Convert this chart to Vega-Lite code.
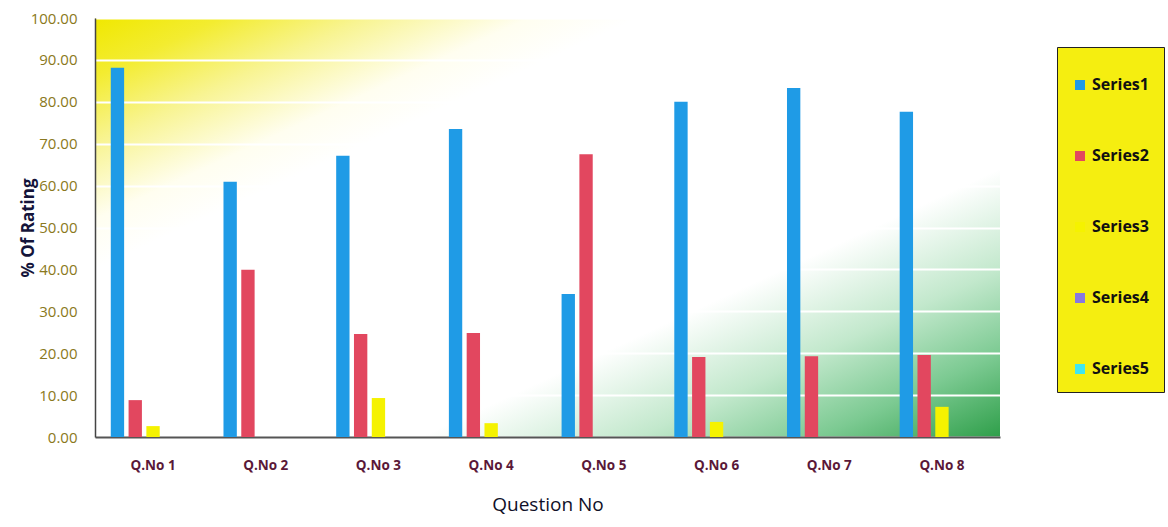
{
  "$schema": "https://vega.github.io/schema/vega-lite/v6.json",
  "autosize": "none",
  "padding": {"left": 95, "top": 18, "right": 168, "bottom": 90},
  "width": 905,
  "height": 419,
  "config": {
    "view": {
      "stroke": null,
      "fill": {
        "gradient": "linear",
        "x1": 0, "y1": 0, "x2": 1, "y2": 1,
        "stops": [
          {"offset": 0, "color": "#f0e800"},
          {"offset": 0.07, "color": "#f3ec30"},
          {"offset": 0.15, "color": "#f8f492"},
          {"offset": 0.24, "color": "#fffef0"},
          {"offset": 0.3, "color": "#ffffff"},
          {"offset": 0.68, "color": "#ffffff"},
          {"offset": 0.8, "color": "#c2e8cc"},
          {"offset": 0.9, "color": "#7cca92"},
          {"offset": 1, "color": "#2f9f4a"}
        ]
      }
    },
    "font": "Open Sans"
  },
  "data": {
    "values": [
      {"q": "Q.No 1", "series": "Series1", "value": 88.1},
      {"q": "Q.No 1", "series": "Series2", "value": 8.8},
      {"q": "Q.No 1", "series": "Series3", "value": 2.6},
      {"q": "Q.No 2", "series": "Series1", "value": 60.9},
      {"q": "Q.No 2", "series": "Series2", "value": 39.9},
      {"q": "Q.No 3", "series": "Series1", "value": 67.1},
      {"q": "Q.No 3", "series": "Series2", "value": 24.6},
      {"q": "Q.No 3", "series": "Series3", "value": 9.3},
      {"q": "Q.No 4", "series": "Series1", "value": 73.5},
      {"q": "Q.No 4", "series": "Series2", "value": 24.8},
      {"q": "Q.No 4", "series": "Series3", "value": 3.3},
      {"q": "Q.No 5", "series": "Series1", "value": 34.1},
      {"q": "Q.No 5", "series": "Series2", "value": 67.5},
      {"q": "Q.No 6", "series": "Series1", "value": 80.0},
      {"q": "Q.No 6", "series": "Series2", "value": 19.1},
      {"q": "Q.No 6", "series": "Series3", "value": 3.6},
      {"q": "Q.No 7", "series": "Series1", "value": 83.3},
      {"q": "Q.No 7", "series": "Series2", "value": 19.3},
      {"q": "Q.No 8", "series": "Series1", "value": 77.6},
      {"q": "Q.No 8", "series": "Series2", "value": 19.6},
      {"q": "Q.No 8", "series": "Series3", "value": 7.2}
    ]
  },
  "mark": {"type": "bar"},
  "encoding": {
    "x": {
      "field": "q",
      "type": "nominal",
      "scale": {"paddingInner": 0.25, "paddingOuter": 0.14},
      "axis": {
        "title": "Question No",
        "labelAngle": 0,
        "labelColor": "#5a1838",
        "labelFontSize": 13.5,
        "labelFontWeight": "bold",
        "labelPadding": 21,
        "ticks": false,
        "domainColor": "#555555",
        "domainWidth": 2,
        "titleFontSize": 19,
        "titleFontWeight": "normal",
        "titleColor": "#101028",
        "titlePadding": 24
      }
    },
    "xOffset": {
      "field": "series",
      "scale": {
        "domain": ["Series1", "Series2", "Series3", "Series4", "Series5"],
        "paddingInner": 0.25
      }
    },
    "y": {
      "field": "value",
      "type": "quantitative",
      "scale": {"domain": [0, 100], "nice": false},
      "axis": {
        "title": "% Of Rating",
        "values": [0, 10, 20, 30, 40, 50, 60, 70, 80, 90, 100],
        "format": ".2f",
        "labelColor": "#8a7820",
        "labelFontSize": 15,
        "labelPadding": 18,
        "ticks": false,
        "domainColor": "#444444",
        "domainWidth": 1.5,
        "gridColor": "#ffffff",
        "gridWidth": 2,
        "titleFontSize": 17,
        "titleFontWeight": "bold",
        "titleColor": "#14143a",
        "titleX": -58
      }
    },
    "color": {
      "field": "series",
      "type": "nominal",
      "scale": {
        "domain": ["Series1", "Series2", "Series3", "Series4", "Series5"],
        "range": ["#1f9be6", "#e2475f", "#f5f200", "#8878e0", "#40e6f0"]
      },
      "legend": {
        "title": " ",
        "titleFontSize": 9,
        "titlePadding": 6,
        "orient": "none",
        "legendX": 962,
        "legendY": 29,
        "fillColor": "#f5ee10",
        "strokeColor": "#222222",
        "padding": 15,
        "rowPadding": 55,
        "symbolType": "square",
        "symbolSize": 100,
        "symbolStrokeWidth": 0,
        "labelFontSize": 16,
        "labelFontWeight": "bold",
        "labelColor": "#111111"
      }
    }
  }
}
